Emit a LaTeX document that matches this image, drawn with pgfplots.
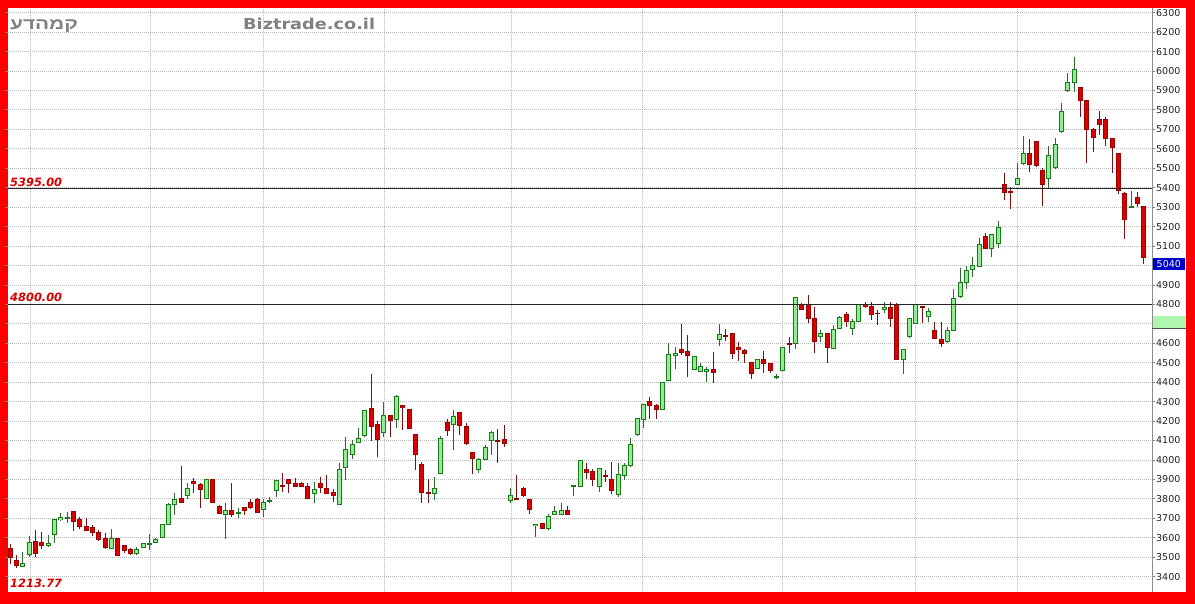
\documentclass[border=0pt]{standalone}
\usepackage{pgfplots}
\pgfplotsset{compat=1.18}
\usepackage{pgfplotstable}
\usepackage{graphicx}
\usepackage{fontspec}
\setmainfont{DejaVu Sans}
\newfontfamily\hebfont[Script=Hebrew]{Liberation Sans}
\TeXXeTstate=1
\definecolor{gfill}{HTML}{90EE90}
\definecolor{gline}{HTML}{1A7A1A}
\definecolor{gwick}{HTML}{2A6A2A}
\definecolor{rfill}{HTML}{DD0000}
\definecolor{rline}{HTML}{990000}
\definecolor{rwick}{HTML}{7A1010}
\definecolor{gridgray}{HTML}{B8B8B8}
\definecolor{labgray}{HTML}{222222}
\definecolor{hdrgray}{HTML}{808080}
\definecolor{lvlred}{HTML}{D40000}
\definecolor{boxblue}{HTML}{0000CC}
\definecolor{boxgreen}{HTML}{B0F5B0}

\pgfplotstableread{
i o h l c
1 3545 3566 3463 3497
2 3485 3509 3444 3458
3 3454 3526 3451 3468
4 3514 3609 3502 3574
5 3583 3638 3502 3520
6 3574 3629 3540 3561
7 3561 3615 3554 3571
8 3616 3694 3574 3694
9 3694 3729 3686 3703
10 3700 3734 3677 3703
11 3734 3737 3634 3686
12 3694 3706 3646 3657
13 3657 3700 3634 3638
14 3651 3663 3609 3629
15 3626 3638 3583 3591
16 3597 3626 3540 3549
17 3546 3643 3546 3594
18 3597 3597 3508 3508
19 3558 3558 3520 3534
20 3541 3546 3512 3517
21 3517 3551 3512 3537
22 3551 3570 3549 3568
23 3568 3620 3537 3570
24 3578 3597 3575 3592
25 3601 3666 3597 3666
26 3666 3781 3666 3769
27 3769 3832 3717 3798
28 3803 3969 3782 3782
29 3815 3883 3798 3854
30 3889 3906 3832 3877
31 3875 3883 3751 3846
32 3803 3900 3798 3897
33 3900 3900 3777 3780
34 3763 3769 3722 3726
35 3722 3777 3592 3739
36 3739 3880 3709 3717
37 3726 3751 3700 3729
38 3757 3760 3717 3739
39 3782 3798 3746 3757
40 3798 3803 3729 3731
41 3746 3798 3709 3781
42 3788 3811 3777 3792
43 3842 3897 3808 3892
44 3870 3931 3834 3866
45 3900 3900 3829 3877
46 3880 3906 3859 3866
47 3877 3889 3859 3866
48 3866 3880 3798 3803
49 3829 3889 3780 3849
50 3877 3914 3829 3858
51 3854 3923 3829 3829
52 3832 3849 3786 3817
53 3769 3986 3769 3952
54 3962 4117 3897 4055
55 4029 4103 4003 4077
56 4091 4163 4086 4111
57 4125 4257 4120 4252
58 4266 4442 4099 4171
59 4180 4200 4017 4103
60 4140 4300 4117 4226
61 4228 4231 4120 4202
62 4206 4334 4163 4326
63 4278 4278 4154 4271
64 4257 4260 4158 4163
65 4129 4134 3949 4026
66 3979 3991 3781 3832
67 3832 3901 3781 3829
68 3825 3911 3794 3854
69 3928 4123 3928 4111
70 4194 4211 4123 4151
71 4183 4257 4051 4223
72 4245 4249 4129 4175
73 4171 4189 4077 4086
74 4039 4043 3926 4009
75 3949 4009 3935 4003
76 4003 4077 4000 4065
77 4098 4149 4026 4141
78 4100 4158 3983 4097
79 4103 4180 4065 4086
80 3789 3854 3781 3815
81 3800 3923 3799 3799
82 3854 3863 3808 3815
83 3798 3798 3722 3743
84 3661 3671 3606 3669
85 3671 3674 3643 3649
86 3649 3722 3640 3709
87 3721 3763 3717 3734
88 3721 3777 3717 3739
89 3739 3763 3717 3722
90 3866 3871 3815 3871
91 3866 4000 3866 3997
92 3952 3986 3901 3937
93 3940 3952 3866 3901
94 3863 3955 3837 3955
95 3920 3949 3885 3917
96 3897 3991 3825 3842
97 3820 3983 3808 3923
98 3918 3986 3897 3969
99 3971 4111 3966 4081
100 4129 4214 4123 4211
101 4206 4288 4163 4286
102 4298 4326 4209 4279
103 4278 4288 4209 4260
104 4260 4403 4260 4398
105 4406 4600 4406 4540
106 4538 4583 4466 4548
107 4569 4700 4540 4554
108 4557 4643 4425 4535
109 4466 4531 4463 4531
110 4454 4500 4452 4483
111 4454 4480 4403 4466
112 4466 4557 4398 4452
113 4617 4700 4586 4643
114 4638 4672 4614 4635
115 4648 4648 4518 4549
116 4580 4608 4511 4566
117 4565 4569 4500 4548
118 4503 4503 4414 4445
119 4471 4517 4467 4514
120 4514 4562 4449 4497
121 4497 4497 4445 4459
122 4428 4442 4416 4430
123 4459 4582 4459 4579
124 4600 4634 4548 4597
125 4600 4839 4569 4836
126 4800 4805 4771 4776
127 4797 4848 4702 4728
128 4728 4788 4548 4611
129 4637 4668 4608 4651
130 4651 4654 4497 4577
131 4574 4694 4569 4671
132 4677 4740 4673 4733
133 4750 4762 4685 4711
134 4677 4723 4642 4711
135 4714 4800 4714 4797
136 4800 4814 4780 4788
137 4788 4814 4719 4750
138 4755 4771 4694 4752
139 4774 4814 4754 4785
140 4785 4814 4685 4728
141 4797 4805 4514 4514
142 4514 4569 4440 4569
143 4634 4731 4625 4728
144 4702 4800 4702 4800
145 4790 4791 4706 4788
146 4740 4780 4711 4762
147 4665 4711 4620 4625
148 4620 4711 4582 4600
149 4610 4682 4600 4665
150 4668 4877 4665 4831
151 4839 4985 4834 4913
152 4913 4997 4877 4973
153 4980 5042 4942 4999
154 4997 5139 4994 5110
155 5148 5165 5083 5085
156 5088 5157 5042 5157
157 5114 5230 5088 5196
158 5414 5474 5337 5376
159 5378 5405 5288 5376
160 5414 5525 5414 5448
161 5525 5666 5516 5576
162 5576 5648 5482 5520
163 5640 5640 5508 5516
164 5491 5500 5306 5414
165 5448 5614 5396 5568
166 5505 5654 5496 5620
167 5689 5838 5680 5791
168 5899 5992 5894 5941
169 5941 6071 5894 6006
170 5917 5917 5766 5848
171 5848 5848 5529 5697
172 5700 5706 5586 5660
173 5752 5795 5672 5726
174 5752 5762 5615 5654
175 5654 5654 5478 5608
176 5577 5577 5368 5385
177 5368 5380 5137 5234
178 5300 5385 5300 5303
179 5349 5380 5303 5317
180 5303 5303 5008 5040
}\candles

\pgfplotsset{
  candlepart/.style n args={2}{draw=none, mark=none, forget plot,
    error bars/y dir=both, error bars/y explicit, error bars/error mark=none,
    error bars/error bar style={line width=#1, draw=#2, line cap=butt}},
  upc/.style={restrict expr to domain={\thisrow{c}-\thisrow{o}}{0:100000}},
  dnc/.style={restrict expr to domain={\thisrow{c}-\thisrow{o}}{-100000:-0.001}},
}

\begin{document}
\begin{tikzpicture}
\useasboundingbox (0,0) rectangle (1195pt,604pt);
\fill[red] (0,0) rectangle (1195pt,604pt);
\fill[white] (8pt,12pt) rectangle (1186pt,596pt);
\begin{axis}[
  at={(8pt,12pt)}, anchor=south west,
  scale only axis, width=1144pt, height=584pt,
  xmin=0.684, xmax=181.27, ymin=3321, ymax=6324,
  axis line style={draw=none},
  xtick={4.16,23.1,40.94,60.04,80.08,100.9,123.0,144.0,159.96},
  xticklabels={},
  xtick style={draw=none},
  ytick={3400,3500,...,6300},
  yticklabel pos=right,
  grid=major,
  major grid style={color=gridgray, dash pattern=on 1pt off 1pt, line width=0.8pt},
  tick align=outside,
  major tick length=3pt,
  ytick style={color=black!50, line width=0.8pt},
  yticklabel style={font=\fontsize{9.5}{10}\selectfont, anchor=west, inner sep=0pt, xshift=1pt, text=labgray},
  /pgf/number format/1000 sep={},
  /pgf/number format/assume math mode=true,
]
% green candles
\addplot[upc, candlepart={1pt}{gwick}]
  table[x=i, y expr={(\thisrow{h}+\thisrow{l})/2}, y error expr={(\thisrow{h}-\thisrow{l})/2}] {\candles};
\addplot[upc, candlepart={5pt}{gline}]
  table[x=i, y expr={(\thisrow{o}+\thisrow{c})/2}, y error expr={abs(\thisrow{c}-\thisrow{o})/2+2.57}] {\candles};
\addplot[upc, candlepart={3pt}{gfill}]
  table[x=i, y expr={(\thisrow{o}+\thisrow{c})/2}, y error expr={max(abs(\thisrow{c}-\thisrow{o})/2-2.57,0)}] {\candles};
% red candles
\addplot[dnc, candlepart={1pt}{rwick}]
  table[x=i, y expr={(\thisrow{h}+\thisrow{l})/2}, y error expr={(\thisrow{h}-\thisrow{l})/2}] {\candles};
\addplot[dnc, candlepart={5pt}{rline}]
  table[x=i, y expr={(\thisrow{o}+\thisrow{c})/2}, y error expr={abs(\thisrow{c}-\thisrow{o})/2+2.57}] {\candles};
\addplot[dnc, candlepart={3pt}{rfill}]
  table[x=i, y expr={(\thisrow{o}+\thisrow{c})/2}, y error expr={max(abs(\thisrow{c}-\thisrow{o})/2-2.57,0)}] {\candles};
% level lines
\addplot[color=black!85, line width=1pt, forget plot] coordinates {(0.684,5395) (181.27,5395)};
\addplot[color=black!85, line width=1pt, forget plot] coordinates {(0.684,4800) (181.27,4800)};
\end{axis}
% right axis line
\draw[color=black!45, line width=1pt] (1152pt,12pt) -- (1152pt,596pt);
% price boxes
\fill[boxgreen] (1152.5pt,275pt) rectangle (1185.5pt,288pt);
\draw[color=black!70, line width=1pt] (1152pt,275pt) -- (1186pt,275pt);
\fill[boxblue] (1152.5pt,333.5pt) rectangle (1185pt,346pt);
\node[anchor=center, text=white, inner sep=0pt, font=\fontsize{9.5}{10}\selectfont] at (1168.8pt,339.8pt) {5040};
% level labels
\node[anchor=base west, inner sep=0pt, text=lvlred, font=\fontsize{11.4}{12}\selectfont\bfseries\itshape] at (10pt,417.5pt) {5395.00};
\node[anchor=base west, inner sep=0pt, text=lvlred, font=\fontsize{11.4}{12}\selectfont\bfseries\itshape] at (10pt,302.5pt) {4800.00};
\node[anchor=base west, inner sep=0pt, text=lvlred, font=\fontsize{11.4}{12}\selectfont\bfseries\itshape] at (10pt,16.5pt) {1213.77};
% header
\node[anchor=base west, inner sep=0pt, text=hdrgray, font=\fontsize{15}{16}\selectfont\bfseries] at (243pt,574pt) {\scalebox{1.18}[1]{Biztrade.co.il}};
\node[anchor=base west, inner sep=0pt, text=hdrgray] at (10pt,574pt) {\scalebox{1.3}[1]{\hebfont\fontsize{16}{17}\selectfont\bfseries\beginR קמהדע\endR}};
\end{tikzpicture}
\end{document}
